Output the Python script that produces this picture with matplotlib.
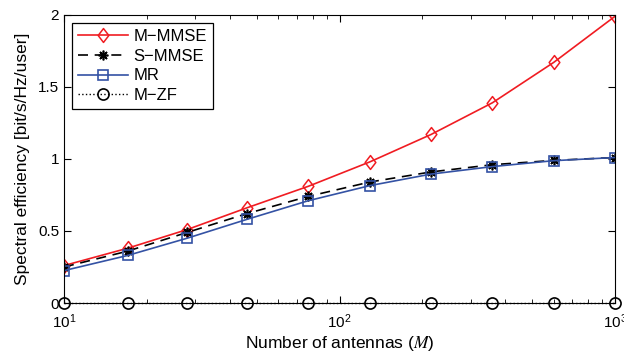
import numpy as np
import matplotlib
matplotlib.use("Agg")
import matplotlib.pyplot as plt
from matplotlib.path import Path

plt.rcParams["font.family"] = ["Liberation Sans", "DejaVu Sans"]
plt.rcParams["mathtext.fontset"] = "stix"

# number of antennas (log-spaced, 10 points)
M = [10, 17, 28, 46, 77, 129, 215, 359, 599, 1000]

m_mmse = [0.26, 0.38, 0.51, 0.66, 0.81, 0.98, 1.17, 1.39, 1.67, 1.99]
s_mmse = [0.25, 0.36, 0.49, 0.62, 0.74, 0.84, 0.91, 0.96, 0.99, 1.01]
mr = [0.225, 0.33, 0.45, 0.58, 0.71, 0.815, 0.895, 0.947, 0.988, 1.01]
m_zf = [0, 0, 0, 0, 0, 0, 0, 0, 0, 0]

# MATLAB-like slightly narrow diamond
diamond = Path([(0, 1), (0.77, 0), (0, -1), (-0.77, 0), (0, 1)],
               [Path.MOVETO, Path.LINETO, Path.LINETO, Path.LINETO, Path.CLOSEPOLY])

fig = plt.figure(figsize=(6.24, 3.54), dpi=100)
ax = fig.add_axes([0.1026, 0.144, 0.883, 0.814])

ax.plot(M, m_mmse, "-", color="#f01c22", marker=diamond, markersize=10,
        markerfacecolor="none", markeredgewidth=1.1, lw=1.2, label="M\u2212MMSE")
ax.plot(M, s_mmse, "--", color="black", marker=(8, 2, 0), markersize=7,
        markeredgewidth=1.2, dashes=(6, 4), lw=1.2, label="S\u2212MMSE")
ax.plot(M, mr, "-", color="#3452a4", marker="s", markersize=7,
        markerfacecolor="none", markeredgewidth=1.2, lw=1.2, label="MR")
ax.plot(M, m_zf, ":", color="black", marker="o", markersize=8,
        markerfacecolor="none", markeredgewidth=1.2, lw=1.0, label="M\u2212ZF",
        clip_on=False, zorder=5)

ax.set_xscale("log")
ax.set_xlim(10, 1000)
ax.set_ylim(0, 2)
ax.set_yticks([0, 0.5, 1, 1.5, 2])
ax.set_yticklabels(["0", "0.5", "1", "1.5", "2"])
ax.tick_params(which="both", direction="in", top=True, right=True, labelsize=11)
ax.tick_params(which="major", length=5)
ax.tick_params(which="minor", length=3)
ax.tick_params(axis="x", which="major", pad=7)

ax.set_xlabel("Number of antennas ($M$)", fontsize=12.5, labelpad=2)
ax.set_ylabel("Spectral efficiency [bit/s/Hz/user]", fontsize=12.5, labelpad=6)

leg = ax.legend(loc="upper left", fontsize=12, fancybox=False, framealpha=1,
                edgecolor="black", handlelength=3.0, borderaxespad=0.5,
                labelspacing=0.28, handletextpad=0.3, borderpad=0.35)
leg.get_frame().set_linewidth(0.9)

fig.savefig("out.png", dpi=100)
